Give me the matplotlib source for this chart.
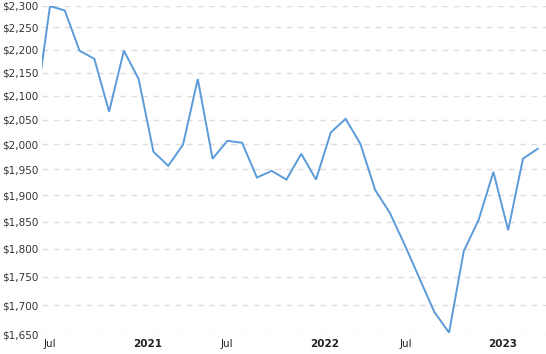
import matplotlib
matplotlib.use("Agg")
import matplotlib.pyplot as plt
from matplotlib.ticker import FixedLocator, NullLocator

# monthly values, Jun 2020 .. Apr 2023
months = ["2020-06", "2020-07", "2020-08", "2020-09", "2020-10", "2020-11", "2020-12",
          "2021-01", "2021-02", "2021-03", "2021-04", "2021-05", "2021-06", "2021-07",
          "2021-08", "2021-09", "2021-10", "2021-11", "2021-12", "2022-01", "2022-02",
          "2022-03", "2022-04", "2022-05", "2022-06", "2022-07", "2022-08", "2022-09",
          "2022-10", "2022-11", "2022-12", "2023-01", "2023-02", "2023-03", "2023-04"]
prices = [2065, 2299, 2289, 2198, 2180, 2067, 2198,
          2136, 1985, 1957, 1999, 2136, 1971, 2007,
          2003, 1934, 1947, 1930, 1981, 1930, 2024,
          2052, 2001, 1910, 1866, 1807, 1747, 1689,
          1654, 1796, 1853, 1945, 1834, 1971, 1991]

y_ticks = [1650, 1700, 1750, 1800, 1850, 1900, 1950, 2000,
           2050, 2100, 2150, 2200, 2250, 2300]
x_labels = ["Jul", "2021", "Jul", "2022", "Jul", "2023"]
x_label_pos = [1.0, 7.63, 13.0, 19.6, 25.1, 31.6]  # month index (0 = Jun 2020)

x = list(range(len(months)))

fig = plt.figure(figsize=(5.46, 3.54), dpi=100)
ax = fig.add_axes([42 / 546, 1 - 335 / 354, 504 / 546, 329.3 / 354])

ax.plot(x, prices, color="#5b9bd9", linewidth=1.4, solid_joinstyle="miter")

ax.set_yscale("log")
ax.set_ylim(1650, 2300)
ax.set_xlim(0.46, 34.56)

ax.yaxis.set_major_locator(FixedLocator(y_ticks))
ax.yaxis.set_minor_locator(NullLocator())
ax.set_yticklabels([f"${v:,}" for v in y_ticks])
ax.tick_params(axis="y", length=0, pad=28.8, labelsize=7.5, labelcolor="#333333")
for lab in ax.get_yticklabels():
    lab.set_horizontalalignment("left")

ax.set_xticks(x_label_pos)
ax.set_xticklabels(x_labels)
ax.tick_params(axis="x", length=0, pad=3, labelsize=7.5, labelcolor="#222222")
for lab, txt in zip(ax.get_xticklabels(), x_labels):
    if txt != "Jul":
        lab.set_fontweight("bold")

ax.grid(axis="y", color="#dddddd", linestyle=(0, (4, 4)), linewidth=1)
ax.grid(axis="x", visible=False)
for s in ax.spines.values():
    s.set_visible(False)

fig.savefig("out.png", dpi=100)
